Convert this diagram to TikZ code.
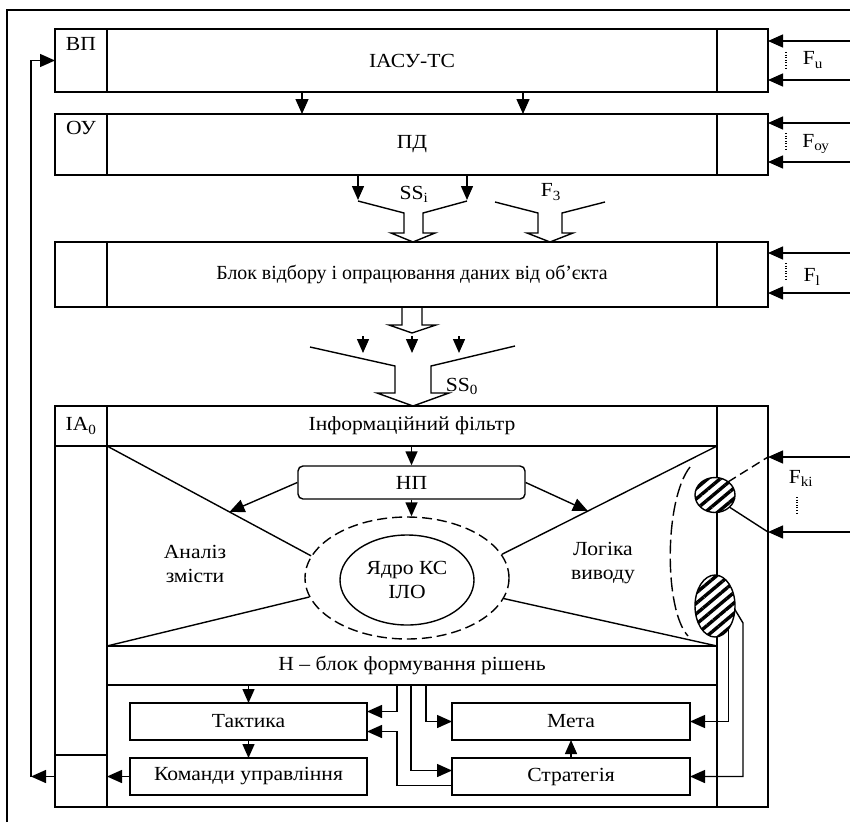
\documentclass[tikz,border=0pt]{standalone}
\usepackage{fontspec}
\usepackage{graphicx}
\setmainfont{Liberation Serif}[FakeStretch=1.08]
\usetikzlibrary{arrows.meta,patterns.meta,shapes.geometric,calc}
\newcommand\bx[6]{\node[box, minimum width={#4-#2}, minimum height={#5-#3}] (#1) at (#2,#3) {#6};}
\begin{document}
\begin{tikzpicture}[x=1pt,y=-1pt,
  line width=1.4pt,
  font=\fontsize{20}{24}\selectfont,
  box/.style={draw, rectangle, inner sep=0pt, outer sep=0pt, anchor=north west},
  arr/.style={-{Triangle[length=15pt,width=13pt]}},
  sarr/.style={-{Triangle[length=14pt,width=12pt]}},
  hatched/.style={ellipse, draw, inner sep=0pt, outer sep=0pt, preaction={fill=white},
    pattern={Lines[angle=40,distance=8pt,line width=3.4pt]}},
  lbl/.style={inner sep=1pt},
  dots/.style={line width=1.2pt, dash pattern=on 1pt off 1.6pt},
]
\useasboundingbox (0,0) rectangle (850,822);
% outer frame
\draw (7,822) -- (7,10) -- (850,10);

% block 1
\bx{vp}{55}{29}{107}{92}{}
\bx{iasu}{107}{29}{717}{92}{ІАСУ-ТС}
\bx{r1}{717}{29}{768}{92}{}
\node[lbl, anchor=north] (vpl) at (81,36) {ВП};
% block 2
\bx{oy}{55}{114}{107}{175}{}
\bx{pd}{107}{114}{717}{175}{\raisebox{-4pt}{ПД}}
\bx{r2}{717}{114}{768}{175}{}
\node[lbl, anchor=north] (oyl) at (81,120) {ОУ};

\draw[arr] (iasu.south -| 302,0) -- (pd.north -| 302,0);
\draw[arr] (iasu.south -| 523,0) -- (pd.north -| 523,0);

% F_u
\coordinate (fu1) at (850,41);
\coordinate (fu2) at (850,80);
\draw[arr] (fu1) -- (r1.east |- fu1);
\draw[arr] (fu2) -- (r1.east |- fu2);
\draw[dots] (786,52) -- (786,70);
\node[lbl] (fu) at (813,60) {F\textsubscript{u}};
% F_oy
\coordinate (fo1) at (850,123);
\coordinate (fo2) at (850,162);
\draw[arr] (fo1) -- (r2.east |- fo1);
\draw[arr] (fo2) -- (r2.east |- fo2);
\draw[dots] (786,133) -- (786,151);
\node[lbl] (fo) at (816,144) {F\textsubscript{оу}};

% SS_i funnel
\draw[sarr] (pd.south -| 358,0) -- (358,200);
\draw[sarr] (pd.south -| 467,0) -- (467,200);
\draw (358,201) -- (404,213) -- (404,233) -- (391,233) -- (413,242) -- (435,233) -- (423,233) -- (423,213) -- (467,201);
\node[lbl] (ssi) at (414,194) {SS\textsubscript{i}};
% F3 funnel
\draw (495,202) -- (538,213) -- (538,233) -- (527,233) -- (550,242) -- (573,233) -- (562,233) -- (562,213) -- (605,202);
\node[lbl] (f3) at (551,192) {F\textsubscript{3}};

% block 3
\bx{l3}{55}{242}{107}{307}{}
\bx{b3}{107}{242}{717}{307}{\scalebox{0.92}[1]{Блок відбору і опрацювання даних від об’єкта}}
\bx{r3}{717}{242}{768}{307}{}
\coordinate (fl1) at (850,253);
\coordinate (fl2) at (850,293);
\draw[arr] (fl1) -- (r3.east |- fl1);
\draw[arr] (fl2) -- (r3.east |- fl2);
\draw[dots] (786,263) -- (786,281);
\node[lbl] (fl) at (812,277) {F\textsubscript{l}};

% hollow arrow below block 3
\draw (402,307) -- (402,325) -- (389,325) -- (412,333) -- (436,325) -- (422,325) -- (422,307);
\draw[sarr] (363,336) -- (363,353);
\draw[sarr] (412,336) -- (412,353);
\draw[sarr] (459,336) -- (459,353);
% SS0 funnel
\draw (310,347) -- (395,366) -- (395,393) -- (377,393) -- (413,406) -- (449,393) -- (431,393) -- (431,366) -- (515,346);
\node[lbl] (ss0) at (462,386) {SS\textsubscript{0}};

% block 4
\bx{ia}{55}{406}{107}{446}{IA\textsubscript{0}}
\bx{filt}{107}{406}{717}{446}{Інформаційний фільтр}
\bx{lcol}{55}{446}{107}{755}{}
\bx{lbot}{55}{755}{107}{807}{}
\bx{mid}{107}{446}{717}{646}{}
\bx{hrow}{107}{646}{717}{685}{Н – блок формування рішень}
\bx{lower}{107}{685}{717}{807}{}
\bx{rcol}{717}{406}{768}{807}{}

% core
\node[ellipse, draw, dash pattern=on 10pt off 5pt, minimum width=204, minimum height=122, inner sep=0pt] (core) at (407,578) {};
\node[ellipse, draw, minimum width=134, minimum height=90, inner sep=0pt, align=center] (yadro) at (407,580) {Ядро КС\\ІЛО};
\draw (mid.north west) -- (core.167);
\draw (mid.south west) -- (core.191);
\draw (mid.north east) -- (core.14);
\draw (mid.south east) -- (core.348);

\node[draw, rounded corners=5pt, minimum width=227, minimum height=33, inner sep=0pt] (np) at (411.5,482.5) {НП};
\draw[sarr] (filt.south -| np.north) -- (np.north);
\draw[sarr] (np.south) -- (np.south |- core.north);
\draw[arr] (np.west) -- ($(mid.north west)!0.6!(core.167)$);
\draw[arr] (np.east) -- ($(mid.north east)!0.6!(core.14)$);

\node[align=center] (anal) at (195,564) {Аналіз\\змісти};
\node[align=center] (logic) at (603,563) {Логіка\\виводу};

\draw[dash pattern=on 14pt off 5pt] (690,467) .. controls (664,500) and (664,610) .. (688,636);

% hatched ellipses
\node[hatched, minimum width=40, minimum height=35] (hat1) at (715,495) {};
\node[hatched, minimum width=40, minimum height=62] (hat2) at (715,606) {};
\coordinate (fk1) at (768,457);
\coordinate (fk2) at (768,532);
\draw[arr] (850,457) -- (fk1);
\draw[arr] (850,532) -- (fk2);
\draw[dash pattern=on 9pt off 5pt] (hat1.45) -- (fk1);
\draw (hat1.320) -- (fk2);
\node[lbl] (fki) at (801,478) {F\textsubscript{ki}};
\draw[dots] (797,497) -- (797,514);

% bottom boxes
\bx{takt}{130}{703}{367}{740}{Тактика}
\bx{kom}{130}{758}{367}{795}{Команди управління}
\bx{meta}{452}{703}{690}{740}{Мета}
\bx{strat}{452}{758}{690}{795}{Стратегія}

\draw[sarr] (hrow.south -| takt.north) -- (takt.north);
\draw[sarr] (takt.south) -- (kom.north);
\draw[sarr] (strat.north -| 571,0) -- (meta.south -| 571,0);
\draw[arr] (kom.west) -- (lbot.east |- kom.west);
\coordinate (fb) at (31,776.5);
\draw[arr] (lbot.west |- kom.west) -- (fb);
\draw[arr] (fb) |- (vp.west);

\draw[arr] (hrow.south -| 397,0) |- ($(takt.east)+(0,-10)$);
\draw[arr] (hrow.south -| 411,0) |- ($(strat.west)+(0,-6)$);
\draw[arr] (hrow.south -| 426,0) |- (meta.west);
\draw[arr] ($(strat.west)+(0,9)$) -| ($(takt.east)+(30,10)$) -- ($(takt.east)+(0,10)$);

\draw[arr] (hat2.300) |- (meta.east);
\draw[arr] (hat2.350) -- (743,623) |- (strat.east);
\end{tikzpicture}
\end{document}
